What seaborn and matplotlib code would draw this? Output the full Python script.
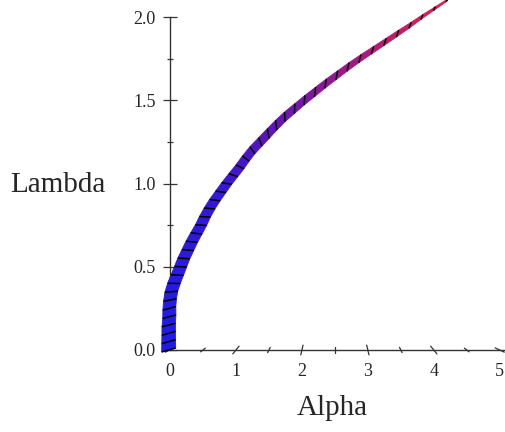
import numpy as np
import pandas as pd
import matplotlib
matplotlib.use("Agg")
import matplotlib.pyplot as plt
import seaborn as sns
from matplotlib.colors import LinearSegmentedColormap

# values (band centre line)
lam = [0.00, 0.05, 0.10, 0.15, 0.20, 0.25, 0.30, 0.35, 0.40, 0.45,
       0.50, 0.55, 0.60, 0.65, 0.70, 0.75, 0.80, 0.85, 0.90, 0.95,
       1.00, 1.05, 1.10, 1.15, 1.20, 1.25, 1.30, 1.35, 1.40, 1.45,
       1.50, 1.55, 1.60, 1.65, 1.70, 1.75, 1.80, 1.85, 1.90, 1.95,
       2.00, 2.05, 2.10]
alpha = [-0.02, -0.02, -0.02, -0.02, -0.01, -0.01, 0.00, 0.02, 0.06, 0.11,
         0.16, 0.21, 0.27, 0.33, 0.40, 0.47, 0.53, 0.60, 0.68, 0.77,
         0.86, 0.96, 1.06, 1.15, 1.25, 1.37, 1.49, 1.61, 1.74, 1.89,
         2.04, 2.20, 2.36, 2.53, 2.70, 2.88, 3.07, 3.26, 3.45, 3.64,
         3.82, 4.01, 4.20]

x_ticks = [0, 1, 2, 3, 4, 5]
x_ticklabels = ["0", "1", "2", "3", "4", "5"]
y_ticks = [0.0, 0.5, 1.0, 1.5, 2.0]
y_ticklabels = ["0.0", "0.5", "1.0", "1.5", "2.0"]

# look of the band: width across the curve and lean of the mesh strokes (px)
knot_lam = [0.0, 0.5, 1.0, 1.15, 1.3, 1.6, 1.9, 2.1]
knot_width = [14, 11.5, 9, 8.5, 8, 6.5, 4.5, 1.5]
knot_skew = [4, 4, 5, 0, -6, -7, -6, -3]

band_cmap = LinearSegmentedColormap.from_list(
    "band", [(0, "#1c1ce8"), (0.45, "#3418d4"), (0.58, "#5014c0"),
             (0.72, "#7c16a4"), (0.86, "#b01a78"), (1, "#e0224c")])

sns.set_style("white")
plt.rcParams['font.family'] = ['Liberation Serif', 'DejaVu Serif']

fig = plt.figure(figsize=(5.06, 4.32), dpi=100)
ax = fig.add_axes([170 / 506, 82 / 432, 335 / 506, 333 / 432])
ax.set_xlim(0, 5.08)
ax.set_ylim(0, 2.0)
px_x = 335 / 5.08
px_y = 333 / 2.0

df = pd.DataFrame({"Alpha": alpha, "Lambda": lam})
sns.lineplot(data=df, x="Alpha", y="Lambda", sort=False, estimator=None,
             color=band_cmap(0.3), linewidth=1, ax=ax, zorder=2, clip_on=False)

# band edges worked out in pixel space
a = np.array(alpha)
l = np.array(lam)
cx, cy = a * px_x, l * px_y
tx, ty = np.gradient(cx), np.gradient(cy)
norm = np.hypot(tx, ty)
tx, ty = tx / norm, ty / norm
nx, ny = ty, -tx
w = np.interp(l, knot_lam, knot_width)
s = np.interp(l, knot_lam, knot_skew)
ox = (nx * w + tx * s) / 2
oy = (ny * w + ty * s) / 2
la, ll = (cx - ox) / px_x, (cy - oy) / px_y
ra, rl = (cx + ox) / px_x, (cy + oy) / px_y

for i in range(len(a) - 1):
    c = band_cmap((l[i] + l[i + 1]) / 2 / 2.1)
    ax.fill([la[i], ra[i], ra[i + 1], la[i + 1]],
            [ll[i], rl[i], rl[i + 1], ll[i + 1]],
            color=c, ec=c, lw=0.6, zorder=3, clip_on=False)
for i in range(len(a)):
    ax.plot([la[i], ra[i]], [ll[i], rl[i]], color="black", lw=1.1,
            zorder=4, clip_on=False, solid_capstyle="butt")

# slanted x ticks (perspective)
for t in np.arange(0, 5.01, 0.5):
    half = 5 if t % 1 == 0 else 3
    th = np.deg2rad(65 - 26 * t)
    ddx = half * np.sin(th) / px_x
    ddy = half * np.cos(th) / px_y
    ax.plot([t - ddx, t + ddx], [-ddy, ddy], color="#333333", lw=0.9,
            clip_on=False, zorder=1)

ax.set_xticks(x_ticks)
ax.set_xticklabels(x_ticklabels)
ax.set_yticks(y_ticks)
ax.set_yticklabels(y_ticklabels)
ax.set_yticks([0.25, 0.75, 1.25, 1.75], minor=True)
ax.tick_params(axis="x", length=0, pad=9, labelsize=13)
ax.tick_params(axis="y", which="major", direction="inout", length=10,
               width=0.9, color="#333333", pad=5.5, labelsize=13, left=True)
ax.tick_params(axis="y", which="minor", direction="inout", length=5,
               width=0.9, color="#333333", left=True)

for sp in ["top", "right"]:
    ax.spines[sp].set_visible(False)
for sp in ["left", "bottom"]:
    ax.spines[sp].set_color("#333333")
    ax.spines[sp].set_linewidth(1.0)

ax.set_ylabel("Lambda", rotation=0, fontsize=21, ha="center", va="center")
ax.yaxis.set_label_coords(-0.334, 0.495)
ax.set_xlabel("Alpha", fontsize=21, va="center")
ax.xaxis.set_label_coords(0.484, -0.174)

fig.savefig("out.png", dpi=100)
